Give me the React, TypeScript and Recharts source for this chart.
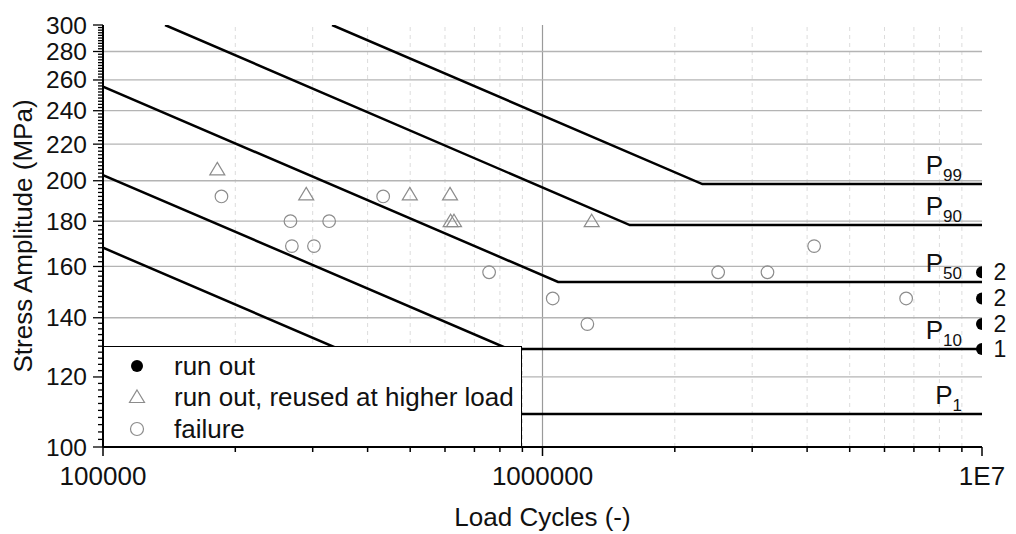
import { ScatterChart, Scatter, XAxis, YAxis, ReferenceLine, ReferenceDot, Legend } from 'recharts';

const FONT = '"Liberation Sans", Arial, sans-serif';
const GRAY = '#8c8c8c';

// test results: load cycles / stress amplitude (MPa)
const failureCycles = [1.86e5, 2.67e5, 2.69e5, 3.02e5, 3.27e5, 4.34e5, 7.56e5, 1.055e6, 1.265e6, 2.51e6, 3.25e6, 4.15e6, 6.72e6];
const failureStress = [192, 180, 168.7, 168.7, 180, 192, 157.6, 147.2, 137.7, 157.6, 157.6, 168.7, 147.2];

const reusedCycles = [1.82e5, 2.9e5, 4.99e5, 6.16e5, 6.18e5, 6.29e5, 1.294e6];
const reusedStress = [206, 193, 193, 193, 180, 180, 180];

const runOutCycles = [1e7, 1e7, 1e7, 1e7];
const runOutStress = [157.6, 147.2, 137.7, 129.1];
const runOutCounts = [2, 2, 2, 1];

// P-S-N curves (start, knee, end)
const curveNames = ['P99', 'P90', 'P50', 'P10', 'P1'];
const p99Cycles = [3.32e5, 2.31e6, 1e7];
const p99Stress = [300, 198.3, 198.3];
const p90Cycles = [1.384e5, 1.58e6, 1e7];
const p90Stress = [300, 178.2, 178.2];
const p50Cycles = [1e5, 1.085e6, 1e7];
const p50Stress = [255.5, 153.7, 153.7];
const p10Cycles = [1e5, 8.36e5, 1e7];
const p10Stress = [203, 129.1, 129.1];
const p1Cycles = [1e5, 7.6e5, 1e7];
const p1Stress = [168, 109, 109];

const xMajor = [1e5, 1e6, 1e7];
const xMajorLabels = ['100000', '1000000', '1E7'];
const xMinor = [2e5, 3e5, 4e5, 5e5, 6e5, 7e5, 8e5, 9e5, 2e6, 3e6, 4e6, 5e6, 6e6, 7e6, 8e6, 9e6];
const yMajor = [100, 120, 140, 160, 180, 200, 220, 240, 260, 280, 300];
const yMinor = [
  102, 104, 106, 108, 110, 112, 114, 116, 118, 122, 124, 126, 128, 130, 132, 134, 136, 138,
  142, 144, 146, 148, 150, 152, 154, 156, 158, 162, 164, 166, 168, 170, 172, 174, 176, 178,
  182, 184, 186, 188, 190, 192, 194, 196, 198, 202, 204, 206, 208, 210, 212, 214, 216, 218,
  222, 224, 226, 228, 230, 232, 234, 236, 238, 242, 244, 246, 248, 250, 252, 254, 256, 258,
  262, 264, 266, 268, 270, 272, 274, 276, 278, 282, 284, 286, 288, 290, 292, 294, 296, 298,
];

const legendItems = [
  { label: 'run out', marker: 'dot' },
  { label: 'run out, reused at higher load', marker: 'triangle' },
  { label: 'failure', marker: 'circle' },
];

const toPoints = (xs: number[], ys: number[]) => xs.map((x, i) => ({ x, y: ys[i] }));

const curves = [
  toPoints(p99Cycles, p99Stress),
  toPoints(p90Cycles, p90Stress),
  toPoints(p50Cycles, p50Stress),
  toPoints(p10Cycles, p10Stress),
  toPoints(p1Cycles, p1Stress),
];

const xTicks = [...xMajor, ...xMinor].sort((a, b) => a - b);
const yTicks = [...yMajor, ...yMinor].sort((a, b) => a - b);

const trianglePath = (cx: number, cy: number) =>
  `M${cx},${cy - 7} L${cx + 7.5},${cy + 5.5} L${cx - 7.5},${cy + 5.5} Z`;

// run-out dots sit on the right frame, only the inner half shows
const halfDotPath = (cx: number, cy: number, r: number) =>
  `M${cx},${cy - r} A${r},${r} 0 0 0 ${cx},${cy + r} Z`;

const BottomTick = ({ x, y, payload }: any) => {
  const i = xMajor.indexOf(payload.value);
  return (
    <g>
      <line x1={x} x2={x} y1={y} y2={y + (i >= 0 ? 9 : 5)} stroke="#000" strokeWidth={1.5} />
      {i >= 0 && (
        <text x={x} y={y + 38} textAnchor="middle" fontSize={26} fill="#111" fontFamily={FONT}>
          {xMajorLabels[i]}
        </text>
      )}
    </g>
  );
};

const TopTick = ({ x, y, payload }: any) => {
  const major = xMajor.includes(payload.value);
  return <line x1={x} x2={x} y1={y} y2={y + (major ? 10 : 5)} stroke="#000" strokeWidth={1.5} />;
};

const LeftTick = ({ x, y, payload }: any) => {
  const major = yMajor.includes(payload.value);
  return (
    <g>
      <line x1={x - (major ? 10 : 5)} x2={x} y1={y} y2={y} stroke="#000" strokeWidth={1.3} />
      {major && (
        <text x={x - 16} y={y + 8.5} textAnchor="end" fontSize={24.5} fill="#111" fontFamily={FONT}>
          {payload.value}
        </text>
      )}
    </g>
  );
};

const RightTick = ({ x, y, payload }: any) => {
  const major = yMajor.includes(payload.value);
  return <line x1={x - (major ? 10 : 5)} x2={x} y1={y} y2={y} stroke="#000" strokeWidth={1.3} />;
};

const LegendBox = () => (
  <div
    style={{
      position: 'relative',
      width: 419,
      height: 101,
      boxSizing: 'border-box',
      border: '1.5px solid #000',
      background: '#fff',
      fontFamily: FONT,
      fontSize: 26,
      color: '#111',
    }}
  >
    {legendItems.map((item, i) => {
      const top = [19, 50, 82][i];
      return (
        <div key={item.label} style={{ position: 'absolute', left: 0, top: top - 16, height: 32, display: 'flex', alignItems: 'center' }}>
          <svg width={70} height={32}>
            {item.marker === 'dot' && <circle cx={33} cy={16} r={6} fill="#000" />}
            {item.marker === 'triangle' && <path d={trianglePath(33, 16)} fill="none" stroke={GRAY} strokeWidth={1.2} />}
            {item.marker === 'circle' && <circle cx={33} cy={16} r={6.5} fill="none" stroke={GRAY} strokeWidth={1.2} />}
          </svg>
          <span style={{ lineHeight: '32px', whiteSpace: 'nowrap' }}>{item.label}</span>
        </div>
      );
    })}
  </div>
);

const App = () => {
  return (
    <div style={{ position: 'absolute', left: 0, top: 0, width: 1016, height: 534, background: '#fff', fontFamily: FONT }}>
      <ScatterChart width={1016} height={534} margin={{ top: 25, right: 34, bottom: 0, left: 0 }}>
        <XAxis
          dataKey="x"
          type="number"
          scale="log"
          domain={[1e5, 1e7]}
          allowDataOverflow
          ticks={xTicks}
          interval={0}
          tick={<BottomTick />}
          tickLine={false}
          tickSize={0}
          tickMargin={0}
          height={87}
          axisLine={{ stroke: '#000', strokeWidth: 2 }}
          label={{ value: 'Load Cycles (-)', position: 'insideBottom', offset: 8, fontSize: 26, fill: '#111', fontFamily: FONT }}
        />
        <XAxis
          xAxisId="top"
          orientation="top"
          dataKey="x"
          type="number"
          scale="log"
          domain={[1e5, 1e7]}
          allowDataOverflow
          ticks={xTicks}
          interval={0}
          tick={<TopTick />}
          tickLine={false}
          tickSize={0}
          tickMargin={0}
          height={0}
          axisLine={{ stroke: '#000', strokeWidth: 2 }}
        />
        <YAxis
          dataKey="y"
          type="number"
          scale="log"
          domain={[100, 300]}
          allowDataOverflow
          ticks={yTicks}
          interval={0}
          tick={<LeftTick />}
          tickLine={false}
          tickSize={0}
          tickMargin={0}
          width={103}
          axisLine={{ stroke: '#000', strokeWidth: 2 }}
          label={{
            value: 'Stress Amplitude (MPa)',
            angle: -90,
            position: 'insideLeft',
            offset: 23,
            fontSize: 26,
            fill: '#111',
            fontFamily: FONT,
            style: { textAnchor: 'middle' },
          }}
        />
        <YAxis
          yAxisId="right"
          orientation="right"
          dataKey="y"
          type="number"
          scale="log"
          domain={[100, 300]}
          allowDataOverflow
          ticks={yTicks}
          interval={0}
          tick={<RightTick />}
          tickLine={false}
          tickSize={0}
          tickMargin={0}
          width={0}
          axisLine={{ stroke: '#000', strokeWidth: 2 }}
        />

        {xMinor.map((v) => (
          <ReferenceLine key={`vx-${v}`} x={v} stroke="#dcdcdc" strokeDasharray="4 4" strokeWidth={1} />
        ))}
        <ReferenceLine x={1e6} stroke="#9a9a9a" strokeWidth={1.2} />
        {yMajor.slice(1, -1).map((v) => (
          <ReferenceLine key={`gy-${v}`} y={v} stroke="#b4b4b4" strokeWidth={1.3} />
        ))}

        {curves.map((pts, i) => (
          <Scatter
            key={curveNames[i]}
            data={pts}
            line={{ stroke: '#000', strokeWidth: 2.5 }}
            lineType="joint"
            shape={() => <g />}
            legendType="none"
            isAnimationActive={false}
          />
        ))}

        <Scatter
          name="failure"
          data={toPoints(failureCycles, failureStress)}
          shape={(p: any) => <circle cx={p.cx} cy={p.cy} r={6.3} fill="none" stroke={GRAY} strokeWidth={1.2} />}
          isAnimationActive={false}
        />
        <Scatter
          name="run out, reused at higher load"
          data={toPoints(reusedCycles, reusedStress)}
          shape={(p: any) => <path d={trianglePath(p.cx, p.cy)} fill="none" stroke={GRAY} strokeWidth={1.2} />}
          isAnimationActive={false}
        />
        <Scatter
          name="run out"
          data={toPoints(runOutCycles, runOutStress)}
          shape={(p: any) => <path d={halfDotPath(p.cx, p.cy, 6)} fill="#000" />}
          isAnimationActive={false}
        />

        {curves.map((pts, i) => (
          <ReferenceDot
            key={`lbl-${curveNames[i]}`}
            x={pts[pts.length - 1].x}
            y={pts[pts.length - 1].y}
            ifOverflow="visible"
            shape={(p: any) => (
              <text x={p.cx - 20} y={p.cy - 10} textAnchor="end" fontSize={26} fill="#111" fontFamily={FONT}>
                {curveNames[i].slice(0, 1)}
                <tspan fontSize={17} dy={7}>{curveNames[i].slice(1)}</tspan>
              </text>
            )}
          />
        ))}

        {runOutStress.map((s, i) => (
          <ReferenceDot
            key={`cnt-${i}`}
            x={runOutCycles[i]}
            y={s}
            ifOverflow="visible"
            shape={(p: any) => (
              <text x={p.cx + 18} y={p.cy + 8} textAnchor="middle" fontSize={23} fill="#111" fontFamily={FONT}>
                {runOutCounts[i]}
              </text>
            )}
          />
        ))}

        <Legend
          layout="vertical"
          align="center"
          verticalAlign="middle"
          content={() => <LegendBox />}
          wrapperStyle={{ left: 103, top: 346, width: 419, height: 101 }}
        />
      </ScatterChart>
    </div>
  );
};

export default App;
